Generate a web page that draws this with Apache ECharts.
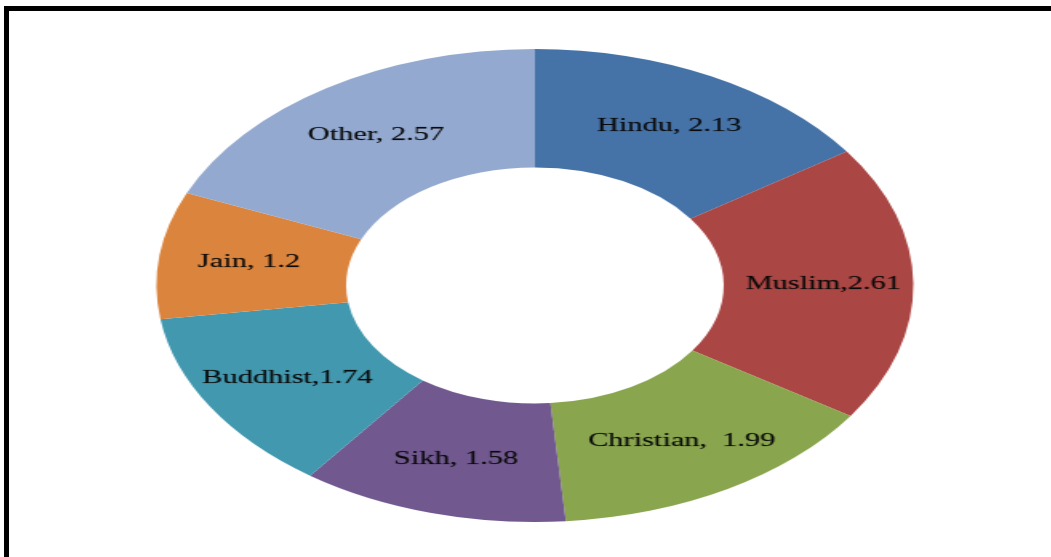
<!DOCTYPE html>
<html>
<head>
<meta charset="utf-8">
<script src="https://cdn.jsdelivr.net/npm/echarts@6/dist/echarts.min.js"></script>
<style>
  html, body { margin: 0; padding: 0; width: 1051px; height: 557px; overflow: hidden; background: #fff; }
  #frame { position: absolute; left: 4px; top: 6px; width: 1200px; height: 700px;
           border-top: 5px solid #000; border-left: 5px solid #000; box-sizing: border-box; }
  #chart { position: absolute; left: 0; top: 0; width: 1051px; height: 557px;
           transform-origin: 535px 285.5px; transform: scaleX(1.6); }
</style>
</head>
<body>
<div id="frame"></div>
<div id="chart"></div>
<script>
const categories = ['Hindu', 'Muslim', 'Christian', 'Sikh', 'Buddhist', 'Jain', 'Other'];
const values = [2.13, 2.61, 1.99, 1.58, 1.74, 1.2, 2.57];
const separators = [', ', ',', ',  ', ', ', ',', ', ', ', '];
const colors = ['#4572A7', '#AA4643', '#89A54E', '#71588F', '#4198AF', '#DB843D', '#93A9CF'];

const chart = echarts.init(document.getElementById('chart'), null, { renderer: 'canvas' });
chart.setOption({
  animation: false,
  series: [{
    type: 'pie',
    center: [535, 285.5],
    radius: [118, 236.5],
    startAngle: 90,
    clockwise: true,
    avoidLabelOverlap: false,
    data: categories.map((c, i) => ({
      name: c,
      value: values[i],
      itemStyle: { color: colors[i] }
    })),
    itemStyle: { borderWidth: 0 },
    label: {
      show: true,
      position: 'inside',
      color: '#0a0a0a',
      fontFamily: 'Liberation Serif',
      fontSize: 19,
      textBorderColor: 'rgba(10,10,10,0.35)',
      textBorderWidth: 0.4,
      formatter: p => p.name + separators[p.dataIndex] + p.value
    },
    labelLine: { show: false },
    emphasis: { disabled: true }
  }]
});
</script>
</body>
</html>
